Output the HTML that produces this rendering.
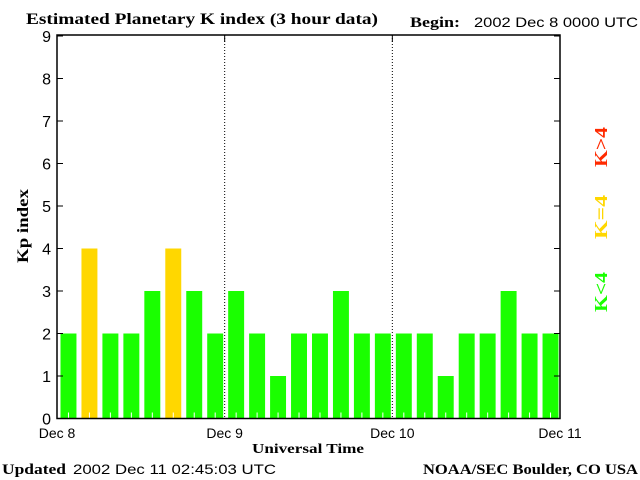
<!DOCTYPE html>
<html><head><meta charset="utf-8">
<style>
html,body{margin:0;padding:0;background:#fff;}
svg{display:block;}
.serif{font-family:"Liberation Serif",serif;font-weight:bold;}
.sans{font-family:"Liberation Sans",sans-serif;}
</style></head>
<body>
<svg id="chart" width="640" height="480" viewBox="0 0 640 480" xmlns="http://www.w3.org/2000/svg">
  <text class="serif" x="26" y="24" font-size="16" textLength="352" lengthAdjust="spacingAndGlyphs">Estimated Planetary K index (3 hour data)</text>
  <text class="serif" x="410" y="27" font-size="15" textLength="50" lengthAdjust="spacingAndGlyphs">Begin:</text>
  <text class="sans" x="474" y="27" font-size="14" textLength="164" lengthAdjust="spacingAndGlyphs">2002 Dec 8 0000 UTC</text>
  <g id="plot"></g>
  <text class="serif" x="28" y="226" font-size="16" transform="rotate(-90 28 226)" text-anchor="middle" textLength="74" lengthAdjust="spacingAndGlyphs">Kp index</text>
  <text class="serif" x="308" y="453" font-size="14" text-anchor="middle" textLength="112" lengthAdjust="spacingAndGlyphs">Universal Time</text>
  <text class="serif" x="2" y="474" font-size="15" textLength="64" lengthAdjust="spacingAndGlyphs">Updated</text>
  <text class="sans" x="73" y="474" font-size="14" textLength="203" lengthAdjust="spacingAndGlyphs">2002 Dec 11 02:45:03 UTC</text>
  <text class="serif" x="638" y="474" font-size="15" text-anchor="end" textLength="215" lengthAdjust="spacingAndGlyphs">NOAA/SEC Boulder, CO USA</text>
  <text class="serif" x="607" y="147" font-size="18" fill="#ff2a00" transform="rotate(-90 607 147)" text-anchor="middle" textLength="40" lengthAdjust="spacingAndGlyphs">K&gt;4</text>
  <text class="serif" x="607" y="217" font-size="18" fill="#ffd700" transform="rotate(-90 607 217)" text-anchor="middle" textLength="44" lengthAdjust="spacingAndGlyphs">K=4</text>
  <text class="serif" x="607" y="292" font-size="18" fill="#1aff00" transform="rotate(-90 607 292)" text-anchor="middle" textLength="40" lengthAdjust="spacingAndGlyphs">K&lt;4</text>
</svg>
<script>
const kpValues = [2,4,2,2,3,4,3,2, 3,2,1,2,2,3,2,2, 2,2,1,2,2,3,2,2];
const yTicks = [0,1,2,3,4,5,6,7,8,9];
const dayLabels = ["Dec 8","Dec 9","Dec 10","Dec 11"];

const NS = "http://www.w3.org/2000/svg";
const L = 57, R = 560, T = 35, B = 418.5;
const yMax = 9;
const xScale = i => L + (R - L) * i / kpValues.length;
const yScale = v => B - (B - 36) * v / yMax;
const plot = document.getElementById('plot');
function mk(tag, attrs) { const e = document.createElementNS(NS, tag); for (const k in attrs) e.setAttribute(k, attrs[k]); plot.appendChild(e); return e; }

const slot = (R - L) / kpValues.length;
kpValues.forEach((v, i) => {
  const color = v > 4 ? '#ff2a00' : (v === 4 ? '#ffd700' : '#1aff00');
  const x0 = xScale(i) + 3.5;
  const r = mk('rect', {x: x0, y: yScale(v), width: slot - 5, height: B - yScale(v), fill: color});
  
  
  const t = mk('line', {x1: xScale(i + 0.5) + 1, x2: xScale(i + 0.5) + 1, y1: B, y2: B - 6, stroke: '#fff', 'stroke-width': 1});
  
  
});

const fr = mk('rect', {x: L, y: T, width: R - L, height: B - T, fill: 'none', stroke: '#000', 'stroke-width': 1.5});



yTicks.forEach(v => {
  const y = yScale(v);
  const a = mk('line', {x1: L, x2: L + 6, y1: y, y2: y, stroke: '#000'});
  
  
  const b = mk('line', {x1: R - 6, x2: R, y1: y, y2: y, stroke: '#000'});
  
  
  const tx = mk('text', {x: 51, y: y + 6, 'font-size': 16, 'text-anchor': 'end', 'font-family': 'Liberation Sans, sans-serif'});
  tx.textContent = v;
  
  
});

dayLabels.forEach((d, i) => {
  const x = L + (R - L) * i / (dayLabels.length - 1);
  if (i > 0 && i < dayLabels.length - 1) {
    const ln = mk('line', {x1: x, x2: x, y1: T, y2: B, stroke: '#000', 'stroke-dasharray': '1,2'});
    
    
    const tk = mk('line', {x1: x, x2: x, y1: T, y2: T + 7, stroke: '#000'});
    
    
  }
  const tx = mk('text', {x: x, y: 438, 'font-size': 14, 'text-anchor': 'middle', 'font-family': 'Liberation Sans, sans-serif'});
  tx.textContent = d;
  
  
});
</script>
</body></html>
